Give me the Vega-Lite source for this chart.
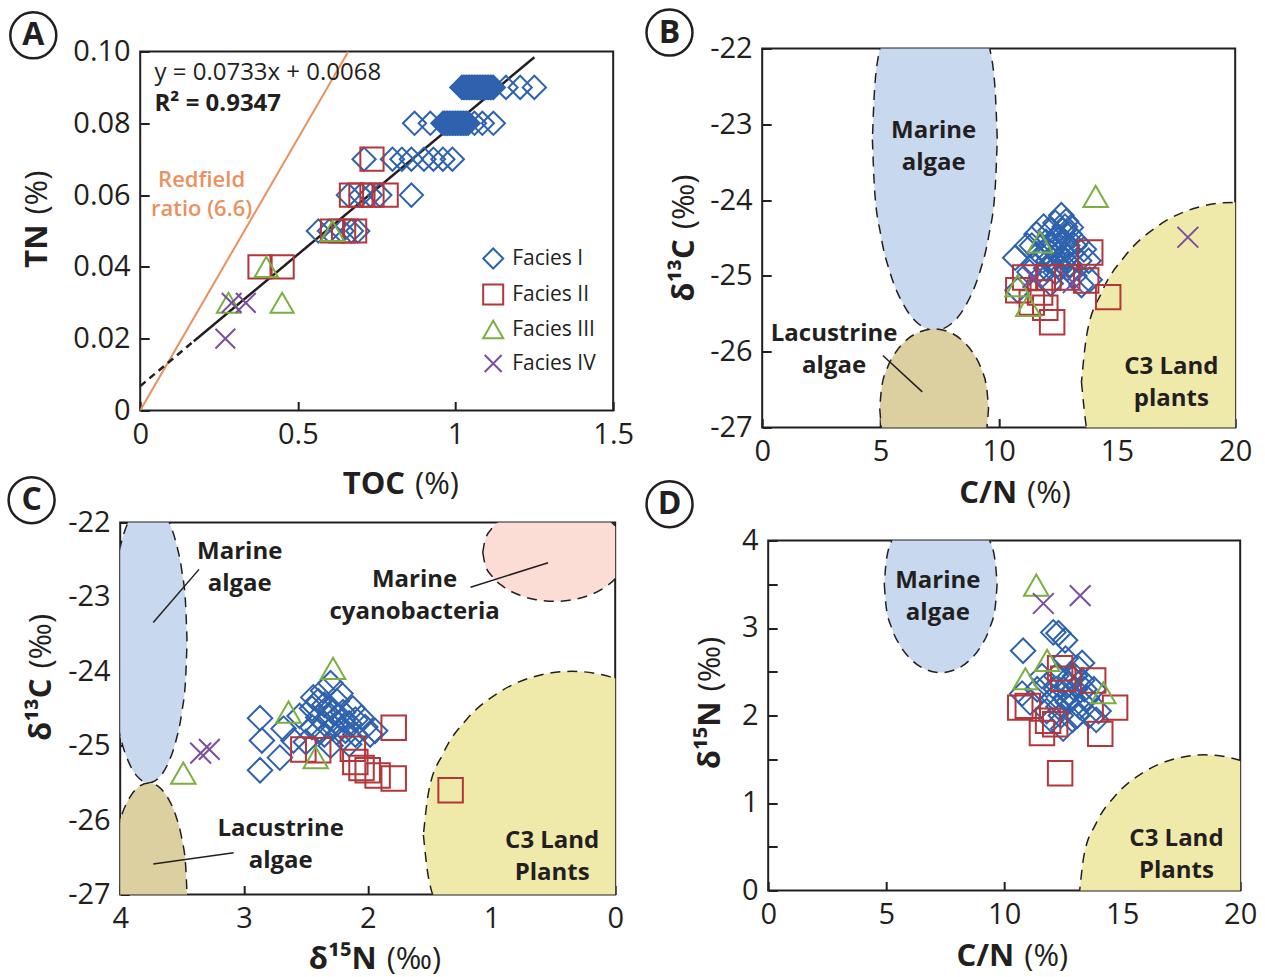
{
"$schema": "https://vega.github.io/schema/vega-lite/v6.json",
"autosize": {"type": "pad"},
"padding": {"left": 2.2, "top": 3.5, "right": 0, "bottom": 4},
"background": "white",
"config": {
  "font": "Open Sans",
  "view": {"stroke": "#231F20", "strokeWidth": 2},
  "axis": {"grid": false, "domain": false, "tickColor": "#231F20", "tickWidth": 2, "tickSize": -9, "labelFont": "Open Sans", "labelFontSize": 29, "labelColor": "#231F20", "labelPadding": 19, "labelFlush": false, "labelOverlap": false, "title": null},
  "text": {"font": "Open Sans", "color": "#231F20"}
},
"spacing": 474,
"bounds": "flush",
"vconcat": [
 {"spacing": 0, "bounds": "flush", "hconcat": [
   {"width": 20, "height": 1, "data": {"values": [{"a": 0}]}, "mark": {"type": "point", "opacity": 0}, "view": {"stroke": null}},
   {"spacing": 622, "bounds": "flush", "hconcat": [
     {"spacing": 0, "bounds": "flush", "vconcat": [
       {"width": 1, "height": 3, "data": {"values": [{"a": 0}]}, "mark": {"type": "point", "opacity": 0}, "view": {"stroke": null}},
       {"width": 473, "height": 359,
        "encoding": {
          "x": {"field": "TOC", "type": "quantitative", "scale": {"domain": [0, 1.5], "nice": false, "zero": false}, "axis": {"values": [0, 0.5, 1, 1.5], "format": ".1~f"}},
          "y": {"field": "TN", "type": "quantitative", "scale": {"domain": [0, 0.1], "nice": false, "zero": false}, "axis": {"values": [0, 0.02, 0.04, 0.06, 0.08, 0.1], "labelExpr": "datum.value == 0 ? '0' : format(datum.value, '.2f')"}}
        },
        "layer": [
          {"data": {"values": [{"TOC": 0, "TN": 0}, {"TOC": 0.66, "TN": 0.1}]}, "mark": {"type": "line", "color": "#EA915E", "strokeWidth": 2, "clip": true}, "encoding": {}},
          {"data": {"values": [{"TOC": 0, "TN": 0.0068}, {"TOC": 0.17, "TN": 0.0193}]}, "mark": {"type": "line", "color": "#231F20", "strokeWidth": 2.5, "strokeDash": [7, 5]}, "encoding": {}},
          {"data": {"values": [{"TOC": 0.17, "TN": 0.0193}, {"TOC": 1.25, "TN": 0.0984}]}, "mark": {"type": "line", "color": "#231F20", "strokeWidth": 2.5}, "encoding": {}},
          {"data": {"values": [
            {"TOC": 1.02, "TN": 0.09, "facies": "Facies I"}, {"TOC": 1.025, "TN": 0.09, "facies": "Facies I"}, {"TOC": 1.03, "TN": 0.09, "facies": "Facies I"}, {"TOC": 1.035, "TN": 0.09, "facies": "Facies I"}, {"TOC": 1.04, "TN": 0.09, "facies": "Facies I"}, {"TOC": 1.045, "TN": 0.09, "facies": "Facies I"}, {"TOC": 1.05, "TN": 0.09, "facies": "Facies I"}, {"TOC": 1.055, "TN": 0.09, "facies": "Facies I"}, {"TOC": 1.06, "TN": 0.09, "facies": "Facies I"}, {"TOC": 1.065, "TN": 0.09, "facies": "Facies I"}, {"TOC": 1.07, "TN": 0.09, "facies": "Facies I"}, {"TOC": 1.075, "TN": 0.09, "facies": "Facies I"}, {"TOC": 1.08, "TN": 0.09, "facies": "Facies I"}, {"TOC": 1.085, "TN": 0.09, "facies": "Facies I"}, {"TOC": 1.09, "TN": 0.09, "facies": "Facies I"}, {"TOC": 1.095, "TN": 0.09, "facies": "Facies I"}, {"TOC": 1.10, "TN": 0.09, "facies": "Facies I"}, {"TOC": 1.105, "TN": 0.09, "facies": "Facies I"}, {"TOC": 1.11, "TN": 0.09, "facies": "Facies I"}, {"TOC": 1.115, "TN": 0.09, "facies": "Facies I"}, {"TOC": 1.12, "TN": 0.09, "facies": "Facies I"}, {"TOC": 1.16, "TN": 0.09, "facies": "Facies I"}, {"TOC": 1.205, "TN": 0.09, "facies": "Facies I"}, {"TOC": 1.25, "TN": 0.09, "facies": "Facies I"},
            {"TOC": 0.87, "TN": 0.08, "facies": "Facies I"}, {"TOC": 0.92, "TN": 0.08, "facies": "Facies I"}, {"TOC": 0.96, "TN": 0.08, "facies": "Facies I"}, {"TOC": 0.965, "TN": 0.08, "facies": "Facies I"}, {"TOC": 0.97, "TN": 0.08, "facies": "Facies I"}, {"TOC": 0.975, "TN": 0.08, "facies": "Facies I"}, {"TOC": 0.98, "TN": 0.08, "facies": "Facies I"}, {"TOC": 0.985, "TN": 0.08, "facies": "Facies I"}, {"TOC": 0.99, "TN": 0.08, "facies": "Facies I"}, {"TOC": 0.995, "TN": 0.08, "facies": "Facies I"}, {"TOC": 1.00, "TN": 0.08, "facies": "Facies I"}, {"TOC": 1.005, "TN": 0.08, "facies": "Facies I"}, {"TOC": 1.01, "TN": 0.08, "facies": "Facies I"}, {"TOC": 1.015, "TN": 0.08, "facies": "Facies I"}, {"TOC": 1.02, "TN": 0.08, "facies": "Facies I"}, {"TOC": 1.025, "TN": 0.08, "facies": "Facies I"}, {"TOC": 1.03, "TN": 0.08, "facies": "Facies I"}, {"TOC": 1.035, "TN": 0.08, "facies": "Facies I"}, {"TOC": 1.04, "TN": 0.08, "facies": "Facies I"}, {"TOC": 1.06, "TN": 0.08, "facies": "Facies I"}, {"TOC": 1.085, "TN": 0.08, "facies": "Facies I"}, {"TOC": 1.12, "TN": 0.08, "facies": "Facies I"},
            {"TOC": 0.71, "TN": 0.07, "facies": "Facies I"}, {"TOC": 0.80, "TN": 0.07, "facies": "Facies I"}, {"TOC": 0.83, "TN": 0.07, "facies": "Facies I"}, {"TOC": 0.86, "TN": 0.07, "facies": "Facies I"}, {"TOC": 0.90, "TN": 0.07, "facies": "Facies I"}, {"TOC": 0.93, "TN": 0.07, "facies": "Facies I"}, {"TOC": 0.96, "TN": 0.07, "facies": "Facies I"}, {"TOC": 0.99, "TN": 0.07, "facies": "Facies I"},
            {"TOC": 0.66, "TN": 0.06, "facies": "Facies I"}, {"TOC": 0.70, "TN": 0.06, "facies": "Facies I"}, {"TOC": 0.73, "TN": 0.06, "facies": "Facies I"}, {"TOC": 0.76, "TN": 0.06, "facies": "Facies I"}, {"TOC": 0.86, "TN": 0.06, "facies": "Facies I"},
            {"TOC": 0.565, "TN": 0.05, "facies": "Facies I"}, {"TOC": 0.60, "TN": 0.05, "facies": "Facies I"}, {"TOC": 0.64, "TN": 0.05, "facies": "Facies I"}, {"TOC": 0.67, "TN": 0.05, "facies": "Facies I"}, {"TOC": 0.69, "TN": 0.05, "facies": "Facies I"},
            {"TOC": 0.735, "TN": 0.07, "facies": "Facies II"}, {"TOC": 0.67, "TN": 0.06, "facies": "Facies II"}, {"TOC": 0.70, "TN": 0.06, "facies": "Facies II"}, {"TOC": 0.735, "TN": 0.06, "facies": "Facies II"}, {"TOC": 0.78, "TN": 0.06, "facies": "Facies II"}, {"TOC": 0.61, "TN": 0.05, "facies": "Facies II"}, {"TOC": 0.645, "TN": 0.05, "facies": "Facies II"}, {"TOC": 0.68, "TN": 0.05, "facies": "Facies II"}, {"TOC": 0.38, "TN": 0.04, "facies": "Facies II"}, {"TOC": 0.45, "TN": 0.04, "facies": "Facies II"},
            {"TOC": 0.61, "TN": 0.05, "facies": "Facies III"}, {"TOC": 0.40, "TN": 0.04, "facies": "Facies III"}, {"TOC": 0.28, "TN": 0.03, "facies": "Facies III"}, {"TOC": 0.45, "TN": 0.03, "facies": "Facies III"},
            {"TOC": 0.29, "TN": 0.03, "facies": "Facies IV"}, {"TOC": 0.335, "TN": 0.03, "facies": "Facies IV"}, {"TOC": 0.27, "TN": 0.02, "facies": "Facies IV"}
          ]},
           "mark": {"type": "point", "filled": false, "strokeWidth": 2, "size": 540, "opacity": 1},
           "encoding": {
             "color": {"field": "facies", "type": "nominal", "scale": {"domain": ["Facies I", "Facies II", "Facies III", "Facies IV"], "range": ["#2F62AE", "#B3363A", "#7BAF41", "#7C4F9E"]},
               "legend": {"orient": "none", "legendX": 362, "legendY": 199, "title": null, "padding": 0, "symbolSize": 400, "symbolStrokeWidth": 2, "labelFontSize": 21, "labelFont": "Open Sans", "labelColor": "#231F20", "labelOffset": 8, "rowPadding": 8}},
             "shape": {"field": "facies", "type": "nominal", "scale": {"domain": ["Facies I", "Facies II", "Facies III", "Facies IV"], "range": ["diamond", "square", "triangle-up", "M-0.85,-0.85L0.85,0.85M-0.85,0.85L0.85,-0.85"]},
               "legend": {"orient": "none", "legendX": 362, "legendY": 199, "title": null, "padding": 0, "symbolSize": 400, "symbolStrokeWidth": 2, "labelFontSize": 21, "labelFont": "Open Sans", "labelColor": "#231F20", "labelOffset": 8, "rowPadding": 8}}
           }},
          {"data": {"values": [{"TOC": 0.0454, "TN": 0.094, "label": "y = 0.0733x + 0.0068"}]}, "mark": {"type": "text", "align": "left", "baseline": "middle", "fontSize": 24}, "encoding": {"text": {"field": "label"}}},
          {"data": {"values": [{"TOC": 0.0454, "TN": 0.0855, "label": "R² = 0.9347"}]}, "mark": {"type": "text", "align": "left", "baseline": "middle", "fontSize": 24, "fontWeight": "bold"}, "encoding": {"text": {"field": "label"}}},
          {"data": {"values": [{"TOC": 0.1947, "TN": 0.0603, "label": ["Redfield", "ratio (6.6)"]}]}, "mark": {"type": "text", "align": "center", "baseline": "middle", "dy": -14.5, "fontSize": 22, "fontWeight": 600, "lineHeight": 29, "color": "#EA915E"}, "encoding": {"text": {"field": "label"}}},
          {"data": {"values": [{"TOC": -0.339, "TN": 0.1045, "label": "A"}]}, "layer": [
            {"mark": {"type": "point", "shape": "circle", "size": 2116, "filled": false, "stroke": "#231F20", "strokeWidth": 2.5, "opacity": 1}},
            {"mark": {"type": "text", "fontSize": 32, "fontWeight": "bold", "baseline": "middle", "align": "center"}, "encoding": {"text": {"field": "label"}}}]},
          {"data": {"values": [{"TOC": 0.856, "TN": -0.0208, "b": "TOC", "r": "(%)"}]}, "layer": [
            {"mark": {"type": "text", "align": "right", "baseline": "middle", "dx": -5, "fontSize": 31, "fontWeight": "bold"}, "encoding": {"text": {"field": "b"}}},
            {"mark": {"type": "text", "align": "left", "baseline": "middle", "dx": 5, "fontSize": 31}, "encoding": {"text": {"field": "r"}}}]},
          {"data": {"values": [{"TOC": -0.325, "TN": 0.0532, "b": "TN", "r": "(%)"}]}, "layer": [
            {"mark": {"type": "text", "align": "right", "baseline": "middle", "angle": 270, "dx": -5, "fontSize": 31, "fontWeight": "bold"}, "encoding": {"text": {"field": "b"}}},
            {"mark": {"type": "text", "align": "left", "baseline": "middle", "angle": 270, "dx": 5, "fontSize": 31}, "encoding": {"text": {"field": "r"}}}]}
        ]}
     ]},
     {"width": 473, "height": 379,
      "encoding": {
        "x": {"field": "CN", "type": "quantitative", "scale": {"domain": [0, 20], "nice": false, "zero": false}, "axis": {"values": [0, 5, 10, 15, 20]}},
        "y": {"field": "d13C", "type": "quantitative", "scale": {"domain": [-27, -22], "nice": false, "zero": false}, "axis": {"values": [-27, -26, -25, -24, -23, -22], "labelExpr": "'' + datum.value"}}
      },
      "layer": [
        {"data": {"values": [
          {"region": "marine", "CN": 9.94, "d13C": -23.2, "d13C2": -23.2}, {"region": "marine", "CN": 9.85, "d13C": -23.852, "d13C2": -22.548}, {"region": "marine", "CN": 9.586, "d13C": -24.46, "d13C2": -21.94}, {"region": "marine", "CN": 9.167, "d13C": -24.982, "d13C2": -21.418}, {"region": "marine", "CN": 8.62, "d13C": -25.382, "d13C2": -21.018}, {"region": "marine", "CN": 7.983, "d13C": -25.634, "d13C2": -20.766}, {"region": "marine", "CN": 7.3, "d13C": -25.72, "d13C2": -20.68}, {"region": "marine", "CN": 6.617, "d13C": -25.634, "d13C2": -20.766}, {"region": "marine", "CN": 5.98, "d13C": -25.382, "d13C2": -21.018}, {"region": "marine", "CN": 5.433, "d13C": -24.982, "d13C2": -21.418}, {"region": "marine", "CN": 5.014, "d13C": -24.46, "d13C2": -21.94}, {"region": "marine", "CN": 4.75, "d13C": -23.852, "d13C2": -22.548}, {"region": "marine", "CN": 4.66, "d13C": -23.2, "d13C2": -23.2},
          {"region": "lacustrine", "CN": 9.57, "d13C": -26.75, "d13C2": -26.75}, {"region": "lacustrine", "CN": 9.492, "d13C": -27.022, "d13C2": -26.478}, {"region": "lacustrine", "CN": 9.262, "d13C": -27.275, "d13C2": -26.225}, {"region": "lacustrine", "CN": 8.896, "d13C": -27.492, "d13C2": -26.008}, {"region": "lacustrine", "CN": 8.42, "d13C": -27.659, "d13C2": -25.841}, {"region": "lacustrine", "CN": 7.865, "d13C": -27.764, "d13C2": -25.736}, {"region": "lacustrine", "CN": 7.27, "d13C": -27.8, "d13C2": -25.7}, {"region": "lacustrine", "CN": 6.675, "d13C": -27.764, "d13C2": -25.736}, {"region": "lacustrine", "CN": 6.12, "d13C": -27.659, "d13C2": -25.841}, {"region": "lacustrine", "CN": 5.644, "d13C": -27.492, "d13C2": -26.008}, {"region": "lacustrine", "CN": 5.278, "d13C": -27.275, "d13C2": -26.225}, {"region": "lacustrine", "CN": 5.048, "d13C": -27.022, "d13C2": -26.478}, {"region": "lacustrine", "CN": 4.97, "d13C": -26.75, "d13C2": -26.75},
          {"region": "c3", "CN": 26.3, "d13C": -26.4, "d13C2": -26.4}, {"region": "c3", "CN": 26.082, "d13C": -27.013, "d13C2": -25.787}, {"region": "c3", "CN": 25.442, "d13C": -27.585, "d13C2": -25.215}, {"region": "c3", "CN": 24.425, "d13C": -28.076, "d13C2": -24.724}, {"region": "c3", "CN": 23.1, "d13C": -28.452, "d13C2": -24.348}, {"region": "c3", "CN": 21.556, "d13C": -28.689, "d13C2": -24.111}, {"region": "c3", "CN": 19.9, "d13C": -28.77, "d13C2": -24.03}, {"region": "c3", "CN": 18.244, "d13C": -28.689, "d13C2": -24.111}, {"region": "c3", "CN": 16.7, "d13C": -28.452, "d13C2": -24.348}, {"region": "c3", "CN": 15.375, "d13C": -28.076, "d13C2": -24.724}, {"region": "c3", "CN": 14.358, "d13C": -27.585, "d13C2": -25.215}, {"region": "c3", "CN": 13.718, "d13C": -27.013, "d13C2": -25.787}, {"region": "c3", "CN": 13.5, "d13C": -26.4, "d13C2": -26.4}
        ]},
         "mark": {"type": "area", "orient": "vertical", "clip": true, "interpolate": "monotone", "stroke": "#231F20", "strokeWidth": 1.5, "strokeDash": [10, 7], "opacity": 1, "fillOpacity": 1},
         "encoding": {"y2": {"field": "d13C2"}, "fill": {"field": "region", "type": "nominal", "scale": {"domain": ["marine", "lacustrine", "c3", "cyano"], "range": ["#C8D9EF", "#DDD0A0", "#EFE9AA", "#FBDDD6"]}, "legend": null}}},
        {"data": {"values": [{"CN": 5.1, "d13C": -26.05, "CN2": 6.77, "d13C2": -26.53}]}, "mark": {"type": "rule", "color": "#231F20", "strokeWidth": 1.5}, "encoding": {"x2": {"field": "CN2"}, "y2": {"field": "d13C2"}}},
        {"data": {"values": [{"CN": 7.25, "d13C": -23.3, "label": ["Marine", "algae"]}, {"CN": 3.04, "d13C": -25.98, "label": ["Lacustrine", "algae"]}, {"CN": 17.3, "d13C": -26.41, "label": ["C3 Land", "plants"]}]},
         "mark": {"type": "text", "align": "center", "baseline": "middle", "dy": -16, "fontSize": 24, "fontWeight": "bold", "lineHeight": 32}, "encoding": {"text": {"field": "label"}}},
        {"data": {"values": [
          {"CN": 10.7, "d13C": -24.76, "facies": "Facies I"}, {"CN": 10.8, "d13C": -25.19, "facies": "Facies I"}, {"CN": 11.2, "d13C": -24.6, "facies": "Facies I"}, {"CN": 11.3, "d13C": -24.95, "facies": "Facies I"}, {"CN": 11.6, "d13C": -24.45, "facies": "Facies I"}, {"CN": 11.5, "d13C": -24.85, "facies": "Facies I"}, {"CN": 11.7, "d13C": -24.7, "facies": "Facies I"}, {"CN": 11.8, "d13C": -25.0, "facies": "Facies I"}, {"CN": 11.9, "d13C": -24.35, "facies": "Facies I"}, {"CN": 12.0, "d13C": -24.55, "facies": "Facies I"}, {"CN": 12.0, "d13C": -24.9, "facies": "Facies I"}, {"CN": 12.1, "d13C": -24.8, "facies": "Facies I"}, {"CN": 12.2, "d13C": -24.4, "facies": "Facies I"}, {"CN": 12.3, "d13C": -24.65, "facies": "Facies I"}, {"CN": 12.4, "d13C": -24.95, "facies": "Facies I"}, {"CN": 12.5, "d13C": -24.85, "facies": "Facies I"}, {"CN": 12.6, "d13C": -24.5, "facies": "Facies I"}, {"CN": 12.65, "d13C": -24.2, "facies": "Facies I"}, {"CN": 12.7, "d13C": -24.75, "facies": "Facies I"}, {"CN": 12.8, "d13C": -24.35, "facies": "Facies I"}, {"CN": 12.85, "d13C": -24.28, "facies": "Facies I"}, {"CN": 12.9, "d13C": -24.6, "facies": "Facies I"}, {"CN": 12.9, "d13C": -24.9, "facies": "Facies I"}, {"CN": 13.0, "d13C": -24.45, "facies": "Facies I"}, {"CN": 13.05, "d13C": -24.36, "facies": "Facies I"}, {"CN": 13.1, "d13C": -24.7, "facies": "Facies I"}, {"CN": 13.2, "d13C": -25.0, "facies": "Facies I"}, {"CN": 13.3, "d13C": -24.55, "facies": "Facies I"}, {"CN": 13.4, "d13C": -24.8, "facies": "Facies I"}, {"CN": 13.5, "d13C": -25.12, "facies": "Facies I"}, {"CN": 13.6, "d13C": -24.65, "facies": "Facies I"}, {"CN": 13.8, "d13C": -24.8, "facies": "Facies I"}, {"CN": 13.85, "d13C": -25.05, "facies": "Facies I"}, {"CN": 12.2, "d13C": -25.1, "facies": "Facies I"}, {"CN": 11.4, "d13C": -24.6, "facies": "Facies I"},
          {"CN": 12.0, "d13C": -24.7, "facies": "Facies I"}, {"CN": 12.4, "d13C": -24.5, "facies": "Facies I"}, {"CN": 12.5, "d13C": -24.7, "facies": "Facies I"}, {"CN": 12.8, "d13C": -24.55, "facies": "Facies I"}, {"CN": 12.6, "d13C": -24.9, "facies": "Facies I"}, {"CN": 12.2, "d13C": -24.6, "facies": "Facies I"}, {"CN": 12.9, "d13C": -24.75, "facies": "Facies I"}, {"CN": 12.4, "d13C": -24.3, "facies": "Facies I"}, {"CN": 13.2, "d13C": -24.6, "facies": "Facies I"}, {"CN": 12.7, "d13C": -24.4, "facies": "Facies I"}, {"CN": 12.3, "d13C": -24.8, "facies": "Facies I"}, {"CN": 13.0, "d13C": -24.85, "facies": "Facies I"},
          {"CN": 13.87, "d13C": -24.69, "facies": "Facies II"}, {"CN": 11.12, "d13C": -25.02, "facies": "Facies II"}, {"CN": 12.1, "d13C": -25.02, "facies": "Facies II"}, {"CN": 12.9, "d13C": -25.02, "facies": "Facies II"}, {"CN": 13.7, "d13C": -25.06, "facies": "Facies II"}, {"CN": 10.83, "d13C": -25.19, "facies": "Facies II"}, {"CN": 11.75, "d13C": -25.22, "facies": "Facies II"}, {"CN": 11.4, "d13C": -25.35, "facies": "Facies II"}, {"CN": 11.97, "d13C": -25.42, "facies": "Facies II"}, {"CN": 12.26, "d13C": -25.61, "facies": "Facies II"}, {"CN": 14.63, "d13C": -25.28, "facies": "Facies II"},
          {"CN": 14.1, "d13C": -23.95, "facies": "Facies III"}, {"CN": 11.75, "d13C": -24.55, "facies": "Facies III"}, {"CN": 10.8, "d13C": -25.13, "facies": "Facies III"}, {"CN": 11.25, "d13C": -25.39, "facies": "Facies III"},
          {"CN": 11.45, "d13C": -25.02, "facies": "Facies IV"}, {"CN": 13.15, "d13C": -25.09, "facies": "Facies IV"}, {"CN": 18.0, "d13C": -24.49, "facies": "Facies IV"}
        ]},
         "mark": {"type": "point", "filled": false, "strokeWidth": 2, "size": 600, "opacity": 1},
         "encoding": {
           "color": {"field": "facies", "type": "nominal", "scale": {"domain": ["Facies I", "Facies II", "Facies III", "Facies IV"], "range": ["#2F62AE", "#B3363A", "#7BAF41", "#7C4F9E"]}, "legend": null},
           "shape": {"field": "facies", "type": "nominal", "scale": {"domain": ["Facies I", "Facies II", "Facies III", "Facies IV"], "range": ["diamond", "square", "triangle-up", "M-0.85,-0.85L0.85,0.85M-0.85,0.85L0.85,-0.85"]}, "legend": null}
         }},
        {"data": {"values": [{"CN": -3.92, "d13C": -21.79, "label": "B"}]}, "layer": [
          {"mark": {"type": "point", "shape": "circle", "size": 2116, "filled": false, "stroke": "#231F20", "strokeWidth": 2.5, "opacity": 1}},
          {"mark": {"type": "text", "fontSize": 32, "fontWeight": "bold", "baseline": "middle", "align": "center"}, "encoding": {"text": {"field": "label"}}}]},
        {"data": {"values": [{"CN": 10.99, "d13C": -27.88, "b": "C/N", "r": "(%)"}]}, "layer": [
          {"mark": {"type": "text", "align": "right", "baseline": "middle", "dx": -5, "fontSize": 31, "fontWeight": "bold"}, "encoding": {"text": {"field": "b"}}},
          {"mark": {"type": "text", "align": "left", "baseline": "middle", "dx": 5, "fontSize": 31}, "encoding": {"text": {"field": "r"}}}]},
        {"data": {"values": [{"CN": -3.25, "d13C": -24.45, "b": "δ¹³C", "r": "(‰)"}]}, "layer": [
          {"mark": {"type": "text", "align": "right", "baseline": "middle", "angle": 270, "dx": -5, "fontSize": 31, "fontWeight": "bold"}, "encoding": {"text": {"field": "b"}}},
          {"mark": {"type": "text", "align": "left", "baseline": "middle", "angle": 270, "dx": 5, "fontSize": 31}, "encoding": {"text": {"field": "r"}}}]}
      ]}
   ]}
 ]},
 {"spacing": 153, "bounds": "flush", "hconcat": [
   {"width": 495, "height": 372,
    "encoding": {
      "x": {"field": "d15N", "type": "quantitative", "scale": {"domain": [0, 4], "reverse": true, "nice": false, "zero": false}, "axis": {"values": [0, 1, 2, 3, 4]}},
      "y": {"field": "d13C", "type": "quantitative", "scale": {"domain": [-27, -22], "nice": false, "zero": false}, "axis": {"values": [-27, -26, -25, -24, -23, -22], "labelExpr": "'' + datum.value"}}
    },
    "layer": [
      {"data": {"values": [
        {"region": "marine", "d15N": 4.08, "d13C": -23.6, "d13C2": -23.6}, {"region": "marine", "d15N": 4.069, "d13C": -24.092, "d13C2": -23.108}, {"region": "marine", "d15N": 4.038, "d13C": -24.55, "d13C2": -22.65}, {"region": "marine", "d15N": 3.989, "d13C": -24.943, "d13C2": -22.257}, {"region": "marine", "d15N": 3.925, "d13C": -25.245, "d13C2": -21.955}, {"region": "marine", "d15N": 3.85, "d13C": -25.435, "d13C2": -21.765}, {"region": "marine", "d15N": 3.77, "d13C": -25.5, "d13C2": -21.7}, {"region": "marine", "d15N": 3.69, "d13C": -25.435, "d13C2": -21.765}, {"region": "marine", "d15N": 3.615, "d13C": -25.245, "d13C2": -21.955}, {"region": "marine", "d15N": 3.551, "d13C": -24.943, "d13C2": -22.257}, {"region": "marine", "d15N": 3.502, "d13C": -24.55, "d13C2": -22.65}, {"region": "marine", "d15N": 3.471, "d13C": -24.092, "d13C2": -23.108}, {"region": "marine", "d15N": 3.46, "d13C": -23.6, "d13C2": -23.6},
        {"region": "lacustrine", "d15N": 4.08, "d13C": -27, "d13C2": -27}, {"region": "lacustrine", "d15N": 4.069, "d13C": -27.388, "d13C2": -26.612}, {"region": "lacustrine", "d15N": 4.038, "d13C": -27.75, "d13C2": -26.25}, {"region": "lacustrine", "d15N": 3.989, "d13C": -28.061, "d13C2": -25.939}, {"region": "lacustrine", "d15N": 3.925, "d13C": -28.299, "d13C2": -25.701}, {"region": "lacustrine", "d15N": 3.85, "d13C": -28.449, "d13C2": -25.551}, {"region": "lacustrine", "d15N": 3.77, "d13C": -28.5, "d13C2": -25.5}, {"region": "lacustrine", "d15N": 3.69, "d13C": -28.449, "d13C2": -25.551}, {"region": "lacustrine", "d15N": 3.615, "d13C": -28.299, "d13C2": -25.701}, {"region": "lacustrine", "d15N": 3.551, "d13C": -28.061, "d13C2": -25.939}, {"region": "lacustrine", "d15N": 3.502, "d13C": -27.75, "d13C2": -26.25}, {"region": "lacustrine", "d15N": 3.471, "d13C": -27.388, "d13C2": -26.612}, {"region": "lacustrine", "d15N": 3.46, "d13C": -27, "d13C2": -27},
        {"region": "cyano", "d15N": 1.07, "d13C": -22.4, "d13C2": -22.4}, {"region": "cyano", "d15N": 1.05, "d13C": -22.571, "d13C2": -22.229}, {"region": "cyano", "d15N": 0.992, "d13C": -22.73, "d13C2": -22.07}, {"region": "cyano", "d15N": 0.9, "d13C": -22.867, "d13C2": -21.933}, {"region": "cyano", "d15N": 0.78, "d13C": -22.972, "d13C2": -21.828}, {"region": "cyano", "d15N": 0.64, "d13C": -23.037, "d13C2": -21.763}, {"region": "cyano", "d15N": 0.49, "d13C": -23.06, "d13C2": -21.74}, {"region": "cyano", "d15N": 0.34, "d13C": -23.037, "d13C2": -21.763}, {"region": "cyano", "d15N": 0.2, "d13C": -22.972, "d13C2": -21.828}, {"region": "cyano", "d15N": 0.08, "d13C": -22.867, "d13C2": -21.933}, {"region": "cyano", "d15N": -0.012, "d13C": -22.73, "d13C2": -22.07}, {"region": "cyano", "d15N": -0.07, "d13C": -22.571, "d13C2": -22.229}, {"region": "cyano", "d15N": -0.09, "d13C": -22.4, "d13C2": -22.4},
        {"region": "c3", "d15N": 1.55, "d13C": -26.2, "d13C2": -26.2}, {"region": "c3", "d15N": 1.509, "d13C": -26.769, "d13C2": -25.631}, {"region": "c3", "d15N": 1.389, "d13C": -27.3, "d13C2": -25.1}, {"region": "c3", "d15N": 1.199, "d13C": -27.756, "d13C2": -24.644}, {"region": "c3", "d15N": 0.95, "d13C": -28.105, "d13C2": -24.295}, {"region": "c3", "d15N": 0.661, "d13C": -28.325, "d13C2": -24.075}, {"region": "c3", "d15N": 0.35, "d13C": -28.4, "d13C2": -24.0}, {"region": "c3", "d15N": 0.039, "d13C": -28.325, "d13C2": -24.075}, {"region": "c3", "d15N": -0.25, "d13C": -28.105, "d13C2": -24.295}, {"region": "c3", "d15N": -0.499, "d13C": -27.756, "d13C2": -24.644}, {"region": "c3", "d15N": -0.689, "d13C": -27.3, "d13C2": -25.1}, {"region": "c3", "d15N": -0.809, "d13C": -26.769, "d13C2": -25.631}, {"region": "c3", "d15N": -0.85, "d13C": -26.2, "d13C2": -26.2}
      ]},
       "mark": {"type": "area", "orient": "vertical", "clip": true, "interpolate": "monotone", "stroke": "#231F20", "strokeWidth": 1.5, "strokeDash": [10, 7], "opacity": 1, "fillOpacity": 1},
       "encoding": {"y2": {"field": "d13C2"}, "fill": {"field": "region", "type": "nominal", "scale": {"domain": ["marine", "lacustrine", "c3", "cyano"], "range": ["#C8D9EF", "#DDD0A0", "#EFE9AA", "#FBDDD6"]}, "legend": null}}},
      {"data": {"values": [{"d15N": 3.363, "d13C": -22.63, "d15N2": 3.733, "d13C2": -23.345}, {"d15N": 3.083, "d13C": -26.44, "d15N2": 3.733, "d13C2": -26.59}, {"d15N": 1.169, "d13C": -22.87, "d15N2": 0.542, "d13C2": -22.54}]},
       "mark": {"type": "rule", "color": "#231F20", "strokeWidth": 1.5}, "encoding": {"x2": {"field": "d15N2"}, "y2": {"field": "d13C2"}}},
      {"data": {"values": [{"d15N": 3.034, "d13C": -22.61, "label": ["Marine", "algae"]}, {"d15N": 1.621, "d13C": -22.99, "label": ["Marine", "cyanobacteria"]}, {"d15N": 2.703, "d13C": -26.33, "label": ["Lacustrine", "algae"]}, {"d15N": 0.509, "d13C": -26.49, "label": ["C3 Land", "Plants"]}]},
       "mark": {"type": "text", "align": "center", "baseline": "middle", "dy": -16, "fontSize": 24, "fontWeight": "bold", "lineHeight": 32}, "encoding": {"text": {"field": "label"}}},
      {"data": {"values": [
        {"d15N": 2.87, "d13C": -24.63, "facies": "Facies I"}, {"d15N": 2.855, "d13C": -24.93, "facies": "Facies I"}, {"d15N": 2.87, "d13C": -25.33, "facies": "Facies I"}, {"d15N": 2.68, "d13C": -24.77, "facies": "Facies I"}, {"d15N": 2.71, "d13C": -25.16, "facies": "Facies I"}, {"d15N": 2.6, "d13C": -24.93, "facies": "Facies I"}, {"d15N": 2.44, "d13C": -24.35, "facies": "Facies I"}, {"d15N": 2.36, "d13C": -24.26, "facies": "Facies I"}, {"d15N": 2.3, "d13C": -24.16, "facies": "Facies I"}, {"d15N": 2.22, "d13C": -24.3, "facies": "Facies I"},
        {"d15N": 2.45, "d13C": -24.5, "facies": "Facies I"}, {"d15N": 2.45, "d13C": -24.75, "facies": "Facies I"}, {"d15N": 2.4, "d13C": -24.62, "facies": "Facies I"}, {"d15N": 2.35, "d13C": -24.45, "facies": "Facies I"}, {"d15N": 2.35, "d13C": -24.85, "facies": "Facies I"}, {"d15N": 2.3, "d13C": -24.6, "facies": "Facies I"}, {"d15N": 2.28, "d13C": -24.75, "facies": "Facies I"}, {"d15N": 2.25, "d13C": -24.4, "facies": "Facies I"}, {"d15N": 2.2, "d13C": -24.55, "facies": "Facies I"}, {"d15N": 2.2, "d13C": -24.9, "facies": "Facies I"}, {"d15N": 2.15, "d13C": -24.7, "facies": "Facies I"}, {"d15N": 2.12, "d13C": -24.5, "facies": "Facies I"}, {"d15N": 2.1, "d13C": -24.85, "facies": "Facies I"}, {"d15N": 2.05, "d13C": -24.62, "facies": "Facies I"}, {"d15N": 2.02, "d13C": -24.75, "facies": "Facies I"}, {"d15N": 1.98, "d13C": -24.85, "facies": "Facies I"}, {"d15N": 1.94, "d13C": -24.8, "facies": "Facies I"}, {"d15N": 2.5, "d13C": -24.95, "facies": "Facies I"}, {"d15N": 2.3, "d13C": -25.0, "facies": "Facies I"}, {"d15N": 2.15, "d13C": -24.98, "facies": "Facies I"}, {"d15N": 2.4, "d13C": -24.4, "facies": "Facies I"}, {"d15N": 2.55, "d13C": -24.6, "facies": "Facies I"},
        {"d15N": 2.3, "d13C": -24.5, "facies": "Facies I"}, {"d15N": 2.25, "d13C": -24.7, "facies": "Facies I"}, {"d15N": 2.2, "d13C": -24.65, "facies": "Facies I"}, {"d15N": 2.35, "d13C": -24.7, "facies": "Facies I"}, {"d15N": 2.1, "d13C": -24.65, "facies": "Facies I"}, {"d15N": 2.4, "d13C": -24.8, "facies": "Facies I"}, {"d15N": 2.18, "d13C": -24.8, "facies": "Facies I"}, {"d15N": 2.28, "d13C": -24.55, "facies": "Facies I"},
        {"d15N": 1.79, "d13C": -24.76, "facies": "Facies II"}, {"d15N": 2.52, "d13C": -25.05, "facies": "Facies II"}, {"d15N": 2.4, "d13C": -25.06, "facies": "Facies II"}, {"d15N": 2.12, "d13C": -25.04, "facies": "Facies II"}, {"d15N": 2.1, "d13C": -25.22, "facies": "Facies II"}, {"d15N": 2.05, "d13C": -25.3, "facies": "Facies II"}, {"d15N": 2.0, "d13C": -25.33, "facies": "Facies II"}, {"d15N": 1.92, "d13C": -25.4, "facies": "Facies II"}, {"d15N": 1.79, "d13C": -25.44, "facies": "Facies II"}, {"d15N": 1.33, "d13C": -25.6, "facies": "Facies II"},
        {"d15N": 2.28, "d13C": -23.96, "facies": "Facies III"}, {"d15N": 2.64, "d13C": -24.55, "facies": "Facies III"}, {"d15N": 2.42, "d13C": -25.16, "facies": "Facies III"}, {"d15N": 3.49, "d13C": -25.37, "facies": "Facies III"},
        {"d15N": 3.35, "d13C": -25.1, "facies": "Facies IV"}, {"d15N": 3.28, "d13C": -25.05, "facies": "Facies IV"}
      ]},
       "mark": {"type": "point", "filled": false, "strokeWidth": 2, "size": 600, "opacity": 1},
       "encoding": {
         "color": {"field": "facies", "type": "nominal", "scale": {"domain": ["Facies I", "Facies II", "Facies III", "Facies IV"], "range": ["#2F62AE", "#B3363A", "#7BAF41", "#7C4F9E"]}, "legend": null},
         "shape": {"field": "facies", "type": "nominal", "scale": {"domain": ["Facies I", "Facies II", "Facies III", "Facies IV"], "range": ["diamond", "square", "triangle-up", "M-0.85,-0.85L0.85,0.85M-0.85,0.85L0.85,-0.85"]}, "legend": null}
       }},
      {"data": {"values": [{"d15N": 4.716, "d13C": -21.7, "label": "C"}]}, "layer": [
        {"mark": {"type": "point", "shape": "circle", "size": 2116, "filled": false, "stroke": "#231F20", "strokeWidth": 2.5, "opacity": 1}},
        {"mark": {"type": "text", "fontSize": 32, "fontWeight": "bold", "baseline": "middle", "align": "center"}, "encoding": {"text": {"field": "label"}}}]},
      {"data": {"values": [{"d15N": 1.887, "d13C": -27.885, "b": "δ¹⁵N", "r": "(‰)"}]}, "layer": [
        {"mark": {"type": "text", "align": "right", "baseline": "middle", "dx": -5, "fontSize": 31, "fontWeight": "bold"}, "encoding": {"text": {"field": "b"}}},
        {"mark": {"type": "text", "align": "left", "baseline": "middle", "dx": 5, "fontSize": 31}, "encoding": {"text": {"field": "r"}}}]},
      {"data": {"values": [{"d15N": 4.634, "d13C": -24.03, "b": "δ¹³C", "r": "(‰)"}]}, "layer": [
        {"mark": {"type": "text", "align": "right", "baseline": "middle", "angle": 270, "dx": -5, "fontSize": 31, "fontWeight": "bold"}, "encoding": {"text": {"field": "b"}}},
        {"mark": {"type": "text", "align": "left", "baseline": "middle", "angle": 270, "dx": 5, "fontSize": 31}, "encoding": {"text": {"field": "r"}}}]}
    ]},
   {"spacing": 0, "bounds": "flush", "vconcat": [
     {"width": 1, "height": 18, "data": {"values": [{"a": 0}]}, "mark": {"type": "point", "opacity": 0}, "view": {"stroke": null}},
     {"width": 472, "height": 350,
      "encoding": {
        "x": {"field": "CN", "type": "quantitative", "scale": {"domain": [0, 20], "nice": false, "zero": false}, "axis": {"values": [0, 5, 10, 15, 20]}},
        "y": {"field": "d15N", "type": "quantitative", "scale": {"domain": [0, 4], "nice": false, "zero": false}, "axis": {"values": [0, 0.5, 1, 1.5, 2, 2.5, 3, 3.5, 4], "labelExpr": "datum.value % 1 == 0 ? '' + datum.value : ''"}}
      },
      "layer": [
        {"data": {"values": [
          {"region": "marine", "CN": 9.7, "d15N": 3.5, "d15N2": 3.5}, {"region": "marine", "CN": 9.619, "d15N": 3.239, "d15N2": 3.761}, {"region": "marine", "CN": 9.38, "d15N": 2.995, "d15N2": 4.005}, {"region": "marine", "CN": 9.0, "d15N": 2.786, "d15N2": 4.214}, {"region": "marine", "CN": 8.505, "d15N": 2.625, "d15N2": 4.375}, {"region": "marine", "CN": 7.929, "d15N": 2.524, "d15N2": 4.476}, {"region": "marine", "CN": 7.31, "d15N": 2.49, "d15N2": 4.51}, {"region": "marine", "CN": 6.691, "d15N": 2.524, "d15N2": 4.476}, {"region": "marine", "CN": 6.115, "d15N": 2.625, "d15N2": 4.375}, {"region": "marine", "CN": 5.62, "d15N": 2.786, "d15N2": 4.214}, {"region": "marine", "CN": 5.24, "d15N": 2.995, "d15N2": 4.005}, {"region": "marine", "CN": 5.001, "d15N": 3.239, "d15N2": 3.761}, {"region": "marine", "CN": 4.92, "d15N": 3.5, "d15N2": 3.5},
          {"region": "c3", "CN": 23.8, "d15N": 0, "d15N2": 0}, {"region": "c3", "CN": 23.619, "d15N": -0.401, "d15N2": 0.401}, {"region": "c3", "CN": 23.09, "d15N": -0.775, "d15N2": 0.775}, {"region": "c3", "CN": 22.248, "d15N": -1.096, "d15N2": 1.096}, {"region": "c3", "CN": 21.15, "d15N": -1.342, "d15N2": 1.342}, {"region": "c3", "CN": 19.872, "d15N": -1.497, "d15N2": 1.497}, {"region": "c3", "CN": 18.5, "d15N": -1.55, "d15N2": 1.55}, {"region": "c3", "CN": 17.128, "d15N": -1.497, "d15N2": 1.497}, {"region": "c3", "CN": 15.85, "d15N": -1.342, "d15N2": 1.342}, {"region": "c3", "CN": 14.752, "d15N": -1.096, "d15N2": 1.096}, {"region": "c3", "CN": 13.91, "d15N": -0.775, "d15N2": 0.775}, {"region": "c3", "CN": 13.381, "d15N": -0.401, "d15N2": 0.401}, {"region": "c3", "CN": 13.2, "d15N": 0, "d15N2": 0}
        ]},
         "mark": {"type": "area", "orient": "vertical", "clip": true, "interpolate": "monotone", "stroke": "#231F20", "strokeWidth": 1.5, "strokeDash": [10, 7], "opacity": 1, "fillOpacity": 1},
         "encoding": {"y2": {"field": "d15N2"}, "fill": {"field": "region", "type": "nominal", "scale": {"domain": ["marine", "lacustrine", "c3", "cyano"], "range": ["#C8D9EF", "#DDD0A0", "#EFE9AA", "#FBDDD6"]}, "legend": null}}},
        {"data": {"values": [{"CN": 7.19, "d15N": 3.35, "label": ["Marine", "algae"]}, {"CN": 17.3, "d15N": 0.407, "label": ["C3 Land", "Plants"]}]},
         "mark": {"type": "text", "align": "center", "baseline": "middle", "dy": -16, "fontSize": 24, "fontWeight": "bold", "lineHeight": 32}, "encoding": {"text": {"field": "label"}}},
        {"data": {"values": [
          {"CN": 12.08, "d15N": 2.95, "facies": "Facies I"}, {"CN": 12.3, "d15N": 2.94, "facies": "Facies I"}, {"CN": 12.58, "d15N": 2.86, "facies": "Facies I"}, {"CN": 10.8, "d15N": 2.74, "facies": "Facies I"}, {"CN": 10.76, "d15N": 2.25, "facies": "Facies I"}, {"CN": 11.1, "d15N": 2.15, "facies": "Facies I"}, {"CN": 11.4, "d15N": 2.3, "facies": "Facies I"}, {"CN": 12.6, "d15N": 2.65, "facies": "Facies I"}, {"CN": 13.3, "d15N": 2.6, "facies": "Facies I"},
          {"CN": 11.8, "d15N": 2.05, "facies": "Facies I"}, {"CN": 11.8, "d15N": 2.35, "facies": "Facies I"}, {"CN": 12.1, "d15N": 2.2, "facies": "Facies I"}, {"CN": 12.2, "d15N": 2.45, "facies": "Facies I"}, {"CN": 12.4, "d15N": 2.0, "facies": "Facies I"}, {"CN": 12.5, "d15N": 2.3, "facies": "Facies I"}, {"CN": 12.7, "d15N": 2.15, "facies": "Facies I"}, {"CN": 12.8, "d15N": 2.45, "facies": "Facies I"}, {"CN": 12.9, "d15N": 1.95, "facies": "Facies I"}, {"CN": 13.0, "d15N": 2.3, "facies": "Facies I"}, {"CN": 13.2, "d15N": 2.1, "facies": "Facies I"}, {"CN": 13.3, "d15N": 2.4, "facies": "Facies I"}, {"CN": 13.5, "d15N": 2.2, "facies": "Facies I"}, {"CN": 13.6, "d15N": 2.0, "facies": "Facies I"}, {"CN": 13.8, "d15N": 2.3, "facies": "Facies I"}, {"CN": 14.0, "d15N": 2.05, "facies": "Facies I"}, {"CN": 13.9, "d15N": 1.95, "facies": "Facies I"}, {"CN": 12.5, "d15N": 1.85, "facies": "Facies I"}, {"CN": 12.0, "d15N": 1.95, "facies": "Facies I"}, {"CN": 13.1, "d15N": 2.55, "facies": "Facies I"}, {"CN": 11.6, "d15N": 2.45, "facies": "Facies I"},
          {"CN": 12.6, "d15N": 2.2, "facies": "Facies I"}, {"CN": 12.9, "d15N": 2.2, "facies": "Facies I"}, {"CN": 13.1, "d15N": 2.0, "facies": "Facies I"}, {"CN": 12.3, "d15N": 2.1, "facies": "Facies I"}, {"CN": 13.4, "d15N": 2.3, "facies": "Facies I"}, {"CN": 12.7, "d15N": 2.35, "facies": "Facies I"}, {"CN": 13.0, "d15N": 2.45, "facies": "Facies I"}, {"CN": 12.2, "d15N": 2.3, "facies": "Facies I"},
          {"CN": 12.37, "d15N": 2.54, "facies": "Facies II"}, {"CN": 12.5, "d15N": 2.42, "facies": "Facies II"}, {"CN": 13.77, "d15N": 2.4, "facies": "Facies II"}, {"CN": 11.0, "d15N": 2.11, "facies": "Facies II"}, {"CN": 10.68, "d15N": 2.09, "facies": "Facies II"}, {"CN": 11.86, "d15N": 1.94, "facies": "Facies II"}, {"CN": 12.16, "d15N": 1.9, "facies": "Facies II"}, {"CN": 11.6, "d15N": 1.8, "facies": "Facies II"}, {"CN": 14.7, "d15N": 2.09, "facies": "Facies II"}, {"CN": 14.07, "d15N": 1.79, "facies": "Facies II"}, {"CN": 12.37, "d15N": 1.34, "facies": "Facies II"},
          {"CN": 11.36, "d15N": 3.49, "facies": "Facies III"}, {"CN": 11.82, "d15N": 2.63, "facies": "Facies III"}, {"CN": 10.9, "d15N": 2.42, "facies": "Facies III"}, {"CN": 14.2, "d15N": 2.26, "facies": "Facies III"},
          {"CN": 11.66, "d15N": 3.28, "facies": "Facies IV"}, {"CN": 13.22, "d15N": 3.37, "facies": "Facies IV"}
        ]},
         "mark": {"type": "point", "filled": false, "strokeWidth": 2, "size": 600, "opacity": 1},
         "encoding": {
           "color": {"field": "facies", "type": "nominal", "scale": {"domain": ["Facies I", "Facies II", "Facies III", "Facies IV"], "range": ["#2F62AE", "#B3363A", "#7BAF41", "#7C4F9E"]}, "legend": null},
           "shape": {"field": "facies", "type": "nominal", "scale": {"domain": ["Facies I", "Facies II", "Facies III", "Facies IV"], "range": ["diamond", "square", "triangle-up", "M-0.85,-0.85L0.85,0.85M-0.85,0.85L0.85,-0.85"]}, "legend": null}
         }},
        {"data": {"values": [{"CN": -4.18, "d15N": 4.415, "label": "D"}]}, "layer": [
          {"mark": {"type": "point", "shape": "circle", "size": 2116, "filled": false, "stroke": "#231F20", "strokeWidth": 2.5, "opacity": 1}},
          {"mark": {"type": "text", "fontSize": 32, "fontWeight": "bold", "baseline": "middle", "align": "center"}, "encoding": {"text": {"field": "label"}}}]},
        {"data": {"values": [{"CN": 10.64, "d15N": -0.757, "b": "C/N", "r": "(%)"}]}, "layer": [
          {"mark": {"type": "text", "align": "right", "baseline": "middle", "dx": -5, "fontSize": 31, "fontWeight": "bold"}, "encoding": {"text": {"field": "b"}}},
          {"mark": {"type": "text", "align": "left", "baseline": "middle", "dx": 5, "fontSize": 31}, "encoding": {"text": {"field": "r"}}}]},
        {"data": {"values": [{"CN": -2.42, "d15N": 2.217, "b": "δ¹⁵N", "r": "(‰)"}]}, "layer": [
          {"mark": {"type": "text", "align": "right", "baseline": "middle", "angle": 270, "dx": -5, "fontSize": 31, "fontWeight": "bold"}, "encoding": {"text": {"field": "b"}}},
          {"mark": {"type": "text", "align": "left", "baseline": "middle", "angle": 270, "dx": 5, "fontSize": 31}, "encoding": {"text": {"field": "r"}}}]}
      ]}
   ]}
 ]}
]
}
